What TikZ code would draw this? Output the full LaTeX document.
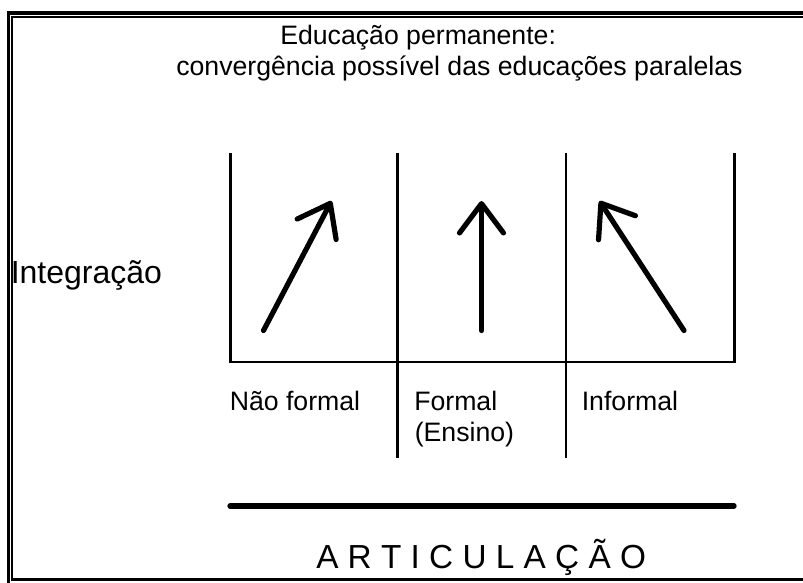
\documentclass[tikz,border=0pt]{standalone}
\usepackage{fontspec}
\setmainfont{Liberation Sans}
\usetikzlibrary{arrows.meta,positioning}

\begin{document}
\begin{tikzpicture}[x=0.75pt,y=-0.75pt,
  linha/.style={line width=1.7pt},
  seta/.style={line width=3.9pt,line cap=round,
    -{Straight Barb[length=22pt,width=33pt,round]}},
  rotulo/.style={anchor=base west,inner sep=0pt,font=\fontsize{20}{24}\selectfont}]

  \useasboundingbox (0,0) rectangle (803,582);
  \clip (0,0) rectangle (803,582);

  % moldura dupla
  \draw[line width=2.4pt] (8.3,590) -- (8.3,13) -- (815,13);
  \draw[line width=1.6pt] (815,17) -- (12.3,17) -- (12.3,579.5) -- (815,579.5);

  \node[rotulo] (titulo1) at (280,44) {Educação permanente:};
  \node[rotulo] (titulo2) at (176,75) {convergência possível das educações paralelas};
  \node[rotulo,font=\fontsize{24}{28}\selectfont] (integ) at (10.5,283) {Integração};

  \coordinate (c1) at (230.5,153);
  \coordinate (c2) at (397.5,153);
  \coordinate (c3) at (566,153);
  \coordinate (c4) at (734.5,153);
  \coordinate (b1) at (230.5,362);
  \coordinate (b4) at (734.5,362);
  \coordinate (p2) at (397.5,458);
  \coordinate (p3) at (566,458);

  \draw[linha] (c1) -- (b1) -- (b4) -- (c4);
  \draw[linha] (c2) -- (p2);
  \draw[linha] (c3) -- (p3);

  \coordinate (nfA) at (263.5,330.5);
  \coordinate (nfB) at (331.5,201);
  \coordinate (fA)  at (481.5,330.5);
  \coordinate (fB)  at (481.5,201);
  \coordinate (ifA) at (684,330.5);
  \coordinate (ifB) at (599.5,201);

  \draw[seta] (nfA) -- (nfB);
  \draw[seta] (fA) -- (fB);
  \draw[seta] (ifA) -- (ifB);

  \node[rotulo] (naoformal) at (229.5,410.7) {Não formal};
  \node[rotulo] (formal)    at (414,410.7)   {Formal};
  \node[rotulo] (ensino)    at (414.5,441.7) {(Ensino)};
  \node[rotulo] (informal)  at (581.5,410.7) {Informal};

  \coordinate (artA) at (230,506);
  \coordinate (artB) at (734,506);
  \draw[line width=4pt,line cap=round] (artA) -- (artB);

  \node[rotulo,font=\fontsize{25}{30}\selectfont] (artic) at (316,568) {A R T I C U L A Ç Ã O};
\end{tikzpicture}
\end{document}
